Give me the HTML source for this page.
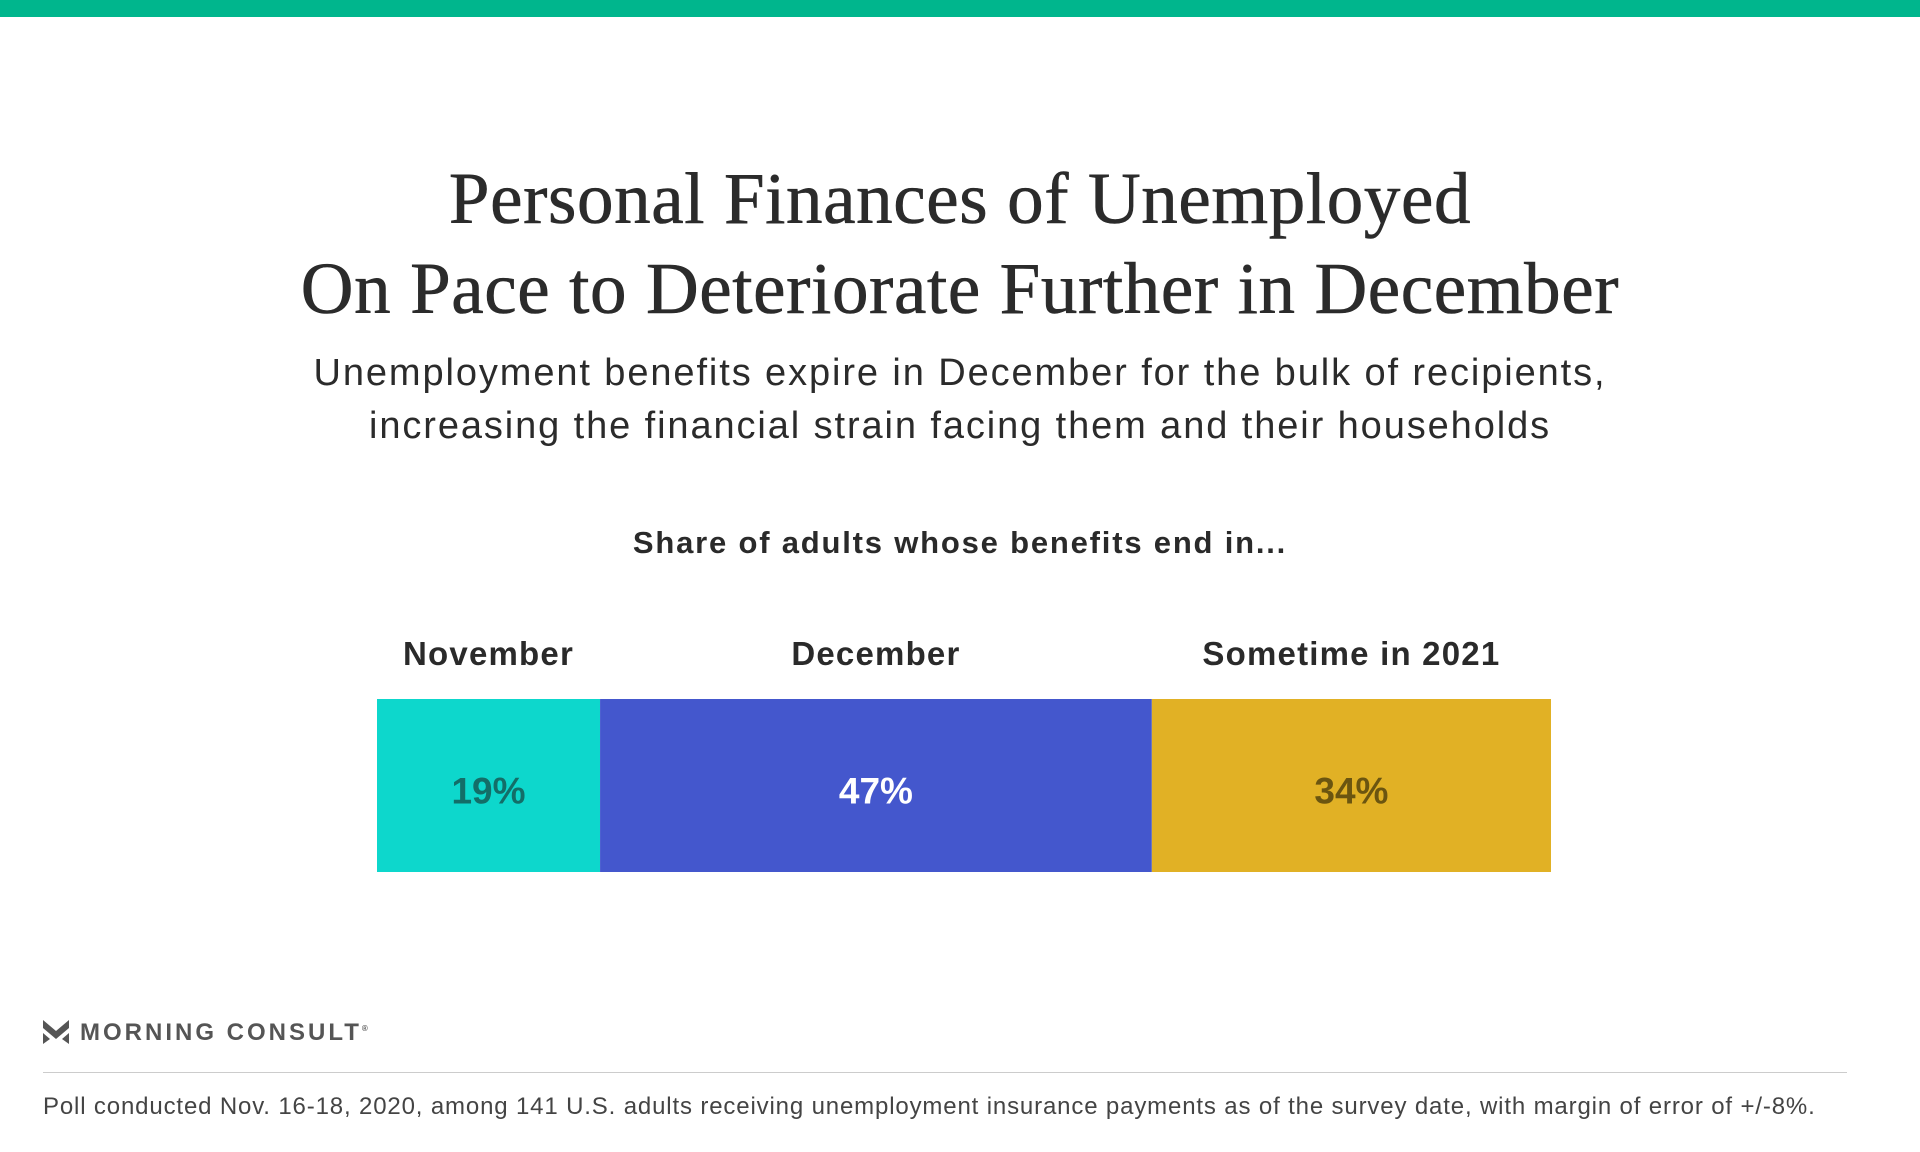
<!DOCTYPE html>
<html><head><meta charset="utf-8"><style>
body{margin:0;width:1920px;height:1152px;background:#fff;position:relative;overflow:hidden;font-family:"Liberation Sans",sans-serif;color:#2a2a2a}
.abs{position:absolute}
.c{left:0;width:1920px;text-align:center}
</style></head><body>
<div class="abs" style="left:0;top:0;width:1920px;height:17px;background:#00b68d"></div>
<div class="abs c" style="top:154px;font-family:'Liberation Serif',serif;font-size:73px;letter-spacing:0.6px;line-height:90px;color:#2b2b2b;-webkit-text-stroke:0.6px #2b2b2b">Personal Finances of Unemployed<br>On Pace to Deteriorate Further in December</div>
<div class="abs c" style="top:347px;font-size:38px;letter-spacing:1.9px;line-height:53px;color:#2b2b2b">Unemployment benefits expire in December for the bulk of recipients,<br>increasing the financial strain facing them and their households</div>
<div class="abs c" style="top:523px;font-size:31px;letter-spacing:1.8px;font-weight:bold;line-height:40px">Share of adults whose benefits end in...</div>
<svg id="chart" class="abs" style="left:0;top:0" width="1920" height="1152"></svg>
<svg class="abs" style="left:43px;top:1020px" width="26" height="24" viewBox="0 0 26 24"><path d="M0 0 L13 11 L26 0 L26 8 L13 19 L0 8Z M0 13 L7 19 L0 24Z M26 13 L19 19 L26 24Z" fill="#555"/></svg>
<div class="abs" style="left:80px;top:1019px;font-size:24px;font-weight:bold;letter-spacing:3px;color:#555">MORNING CONSULT<sup style="font-size:8px">®</sup></div>
<div class="abs" style="left:43px;top:1072px;width:1804px;height:1px;background:#ccc"></div>
<div class="abs" style="left:43px;top:1093px;font-size:24px;letter-spacing:0.85px;color:#444">Poll conducted Nov. 16-18, 2020, among 141 U.S. adults receiving unemployment insurance payments as of the survey date, with margin of error of +/-8%.</div>
<script>
const categories=["November","December","Sometime in 2021"];
const values=[19,47,34];
const fills=["#0dd7cc","#4457cd","#e1b125"];
const textColors=["#136e68","#ffffff","#6b5510"];
const svg=document.getElementById('chart');
const NS='http://www.w3.org/2000/svg';
const x0=377,x1=1551,yTop=699,yBot=872;
const total=values.reduce((a,b)=>a+b,0);
function xs(v){return x0+(x1-x0)*v/total;}
let cum=0;
values.forEach((v,i)=>{
  const a=xs(cum),b=xs(cum+v);cum+=v;
  const r=document.createElementNS(NS,'rect');
  r.setAttribute('x',a);r.setAttribute('y',yTop);r.setAttribute('width',b-a);r.setAttribute('height',yBot-yTop);r.setAttribute('fill',fills[i]);
  
  
  svg.appendChild(r);
  const t=document.createElementNS(NS,'text');
  t.setAttribute('x',(a+b)/2);t.setAttribute('y',(yTop+yBot)/2+18);t.setAttribute('text-anchor','middle');
  t.setAttribute('font-family','Liberation Sans, sans-serif');t.setAttribute('font-weight','bold');t.setAttribute('font-size','37');t.setAttribute('fill',textColors[i]);
  t.textContent=v+'%';
  
  
  svg.appendChild(t);
  const c=document.createElementNS(NS,'text');
  c.setAttribute('x',(a+b)/2);c.setAttribute('y',665);c.setAttribute('text-anchor','middle');
  c.setAttribute('font-family','Liberation Sans, sans-serif');c.setAttribute('font-weight','bold');c.setAttribute('font-size','33');c.setAttribute('letter-spacing','1.2');c.setAttribute('fill','#2a2a2a');
  c.textContent=categories[i];
  
  
  svg.appendChild(c);
});
</script>
</body></html>
